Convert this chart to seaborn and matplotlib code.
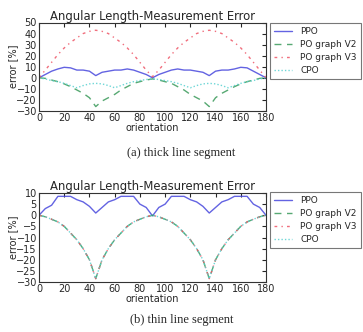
import numpy as np
import pandas as pd
import matplotlib
matplotlib.use("Agg")
import matplotlib.pyplot as plt
import seaborn as sns

orientation = list(range(0, 181, 5))

# (a) thick line segment
thick_ppo = [0, 3, 6, 8, 9.5, 9, 7, 7, 6, 2, 5, 6, 7, 7, 8, 7, 5, 3, 0,
             3, 5, 7, 8, 7, 7, 6, 5, 2, 6, 7, 7, 8, 9.5, 9, 6, 3, 0]
thick_v2 = [0, -0.5, -2, -3.5, -5.5, -8, -11, -14, -18, -26, -21, -18, -15, -11, -8, -5, -3.5, -2, -1,
            -2, -3.5, -5, -8, -11, -15, -18, -21, -26, -18, -14, -11, -8, -5.5, -3.5, -2, -0.5, 0]
thick_v3 = [0, 7, 14, 21, 27, 32, 36, 40, 42, 43, 42, 40, 36, 32, 27, 21, 14, 7, 1,
            7, 14, 21, 27, 32, 36, 40, 42, 43, 42, 40, 36, 32, 27, 21, 14, 7, 0]
thick_cpo = [0, -1, -2.5, -3.5, -5, -7, -9, -7, -5.5, -5, -5.5, -7, -9, -7, -5, -3.5, -2.5, -1.5, -1,
             -1.5, -2.5, -3.5, -5, -7, -9, -7, -5.5, -5, -5.5, -7, -9, -7, -5, -3.5, -2.5, -1, 0]

# (b) thin line segment
thin_ppo = [0, 3, 4.5, 8.5, 8.5, 8.5, 7, 6, 4, 1, 3.5, 6, 7, 8.5, 8.5, 8.5, 5, 3.5, -0.3,
            3.5, 5, 8.5, 8.5, 8.5, 7, 6, 4, 1, 3.5, 6, 7, 8.5, 8.5, 8.5, 5, 3.5, 0]
thin_v2 = [0, -0.7, -1.8, -3, -5, -8, -11, -15, -20, -28.5, -20, -15, -11, -8, -5, -3, -1.8, -0.7, 0,
           -0.7, -1.8, -3, -5, -8, -11, -15, -20, -28.5, -20, -15, -11, -8, -5, -3, -1.8, -0.7, 0]
thin_v3 = list(thin_v2)
thin_cpo = list(thin_v2)

series_names = ["PPO", "PO graph V2", "PO graph V3", "CPO"]
palette = {"PPO": "#4848dd", "PO graph V2": "#3a9a5a", "PO graph V3": "#ee5566", "CPO": "#55d0d0"}
dash_styles = {"PPO": "", "PO graph V2": (5, 4), "PO graph V3": (2, 3, 1, 3), "CPO": (1, 1.5)}


def make_frame(values):
    rows = []
    for name, vals in zip(series_names, values):
        for o, v in zip(orientation, vals):
            rows.append({"orientation": o, "error": v, "series": name})
    return pd.DataFrame(rows)


def draw(ax, df, yticks):
    sns.lineplot(data=df, x="orientation", y="error", hue="series", style="series",
                 palette=palette, dashes=dash_styles, linewidth=1.0, alpha=0.85, ax=ax)
    ax.set_xlim(0, 180)
    ax.set_xticks(range(0, 181, 20))
    ax.set_ylim(yticks[0], yticks[-1])
    ax.set_yticks(yticks)
    ax.set_title("Angular Length-Measurement Error", fontsize=8.4, pad=2)
    ax.set_xlabel("orientation", fontsize=7, labelpad=0)
    ax.set_ylabel("error [%]", fontsize=7, labelpad=-1)
    ax.tick_params(labelsize=7, direction="in", length=3, pad=1.5, top=True, right=True)
    for s in ax.spines.values():
        s.set_color("#333333")
        s.set_linewidth(0.8)


sns.set_style("white")
plt.rcParams["font.family"] = ["DejaVu Sans"]

fig = plt.figure(figsize=(3.63, 3.32), dpi=100)
ax1 = fig.add_axes([39 / 363, 1 - 111 / 332, 227 / 363, 88.5 / 332])
ax2 = fig.add_axes([39 / 363, 1 - 282 / 332, 227 / 363, 89 / 332])

draw(ax1, make_frame([thick_ppo, thick_v2, thick_v3, thick_cpo]), list(range(-30, 51, 10)))
draw(ax2, make_frame([thin_ppo, thin_v2, thin_v3, thin_cpo]), list(range(-30, 11, 5)))

for ax, y in ((ax1, 1 - 23 / 332), (ax2, 1 - 192 / 332)):
    leg = ax.legend(loc="upper left", bbox_to_anchor=(270 / 363, y), bbox_transform=fig.transFigure,
                    fontsize=6.5, frameon=True, fancybox=False, handlelength=2.0,
                    borderpad=0.45, labelspacing=0.45, handletextpad=0.9, borderaxespad=0)
    leg.get_frame().set_edgecolor("#555555")
    leg.get_frame().set_linewidth(0.8)

fig.text(0.5, 1 - 153 / 332, "(a) thick line segment", ha="center", va="center",
         fontsize=9, family="Liberation Serif")
fig.text(0.5, 1 - 320 / 332, "(b) thin line segment", ha="center", va="center",
         fontsize=9, family="Liberation Serif")

fig.savefig("out.png", dpi=100)
